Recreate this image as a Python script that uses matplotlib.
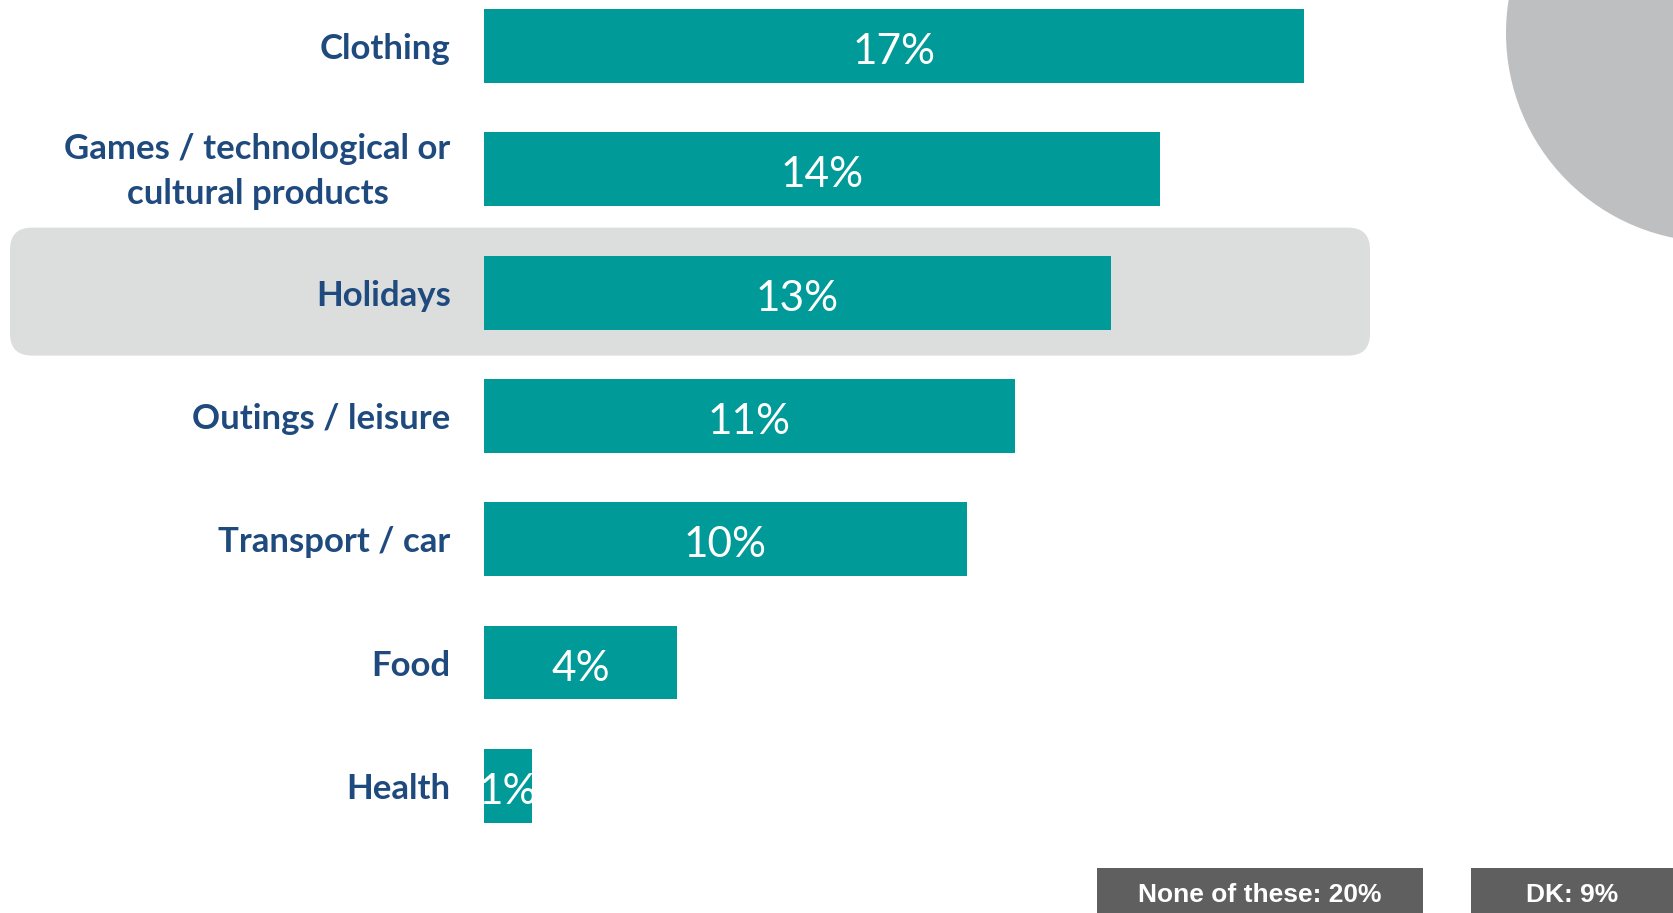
import matplotlib
matplotlib.use("Agg")
import matplotlib.pyplot as plt
from matplotlib.patches import FancyBboxPatch, Circle, Rectangle
from matplotlib.transforms import Bbox, TransformedBbox, ScaledTranslation

# Spending categories and shares (%)
categories = [
    "Clothing",
    "Games / technological or\ncultural products",
    "Holidays",
    "Outings / leisure",
    "Transport / car",
    "Food",
    "Health",
]
values = [17, 14, 13, 11, 10, 4, 1]
value_labels = ["17%", "14%", "13%", "11%", "10%", "4%", "1%"]
highlight = "Holidays"
extra_labels = ["None of these: 20%", "DK: 9%"]

TEAL = "#009A98"
NAVY = "#1F4A7E"
BAND = "#DCDDDD"
GREY_DISC = "#BEBFC1"
BOX = "#5F5F5F"

W, H = 1674, 913
fig = plt.figure(figsize=(W / 100, H / 100), dpi=100)

# Decoration layer in pixel units (y grows downward)
deco = fig.add_axes([0, 0, 1, 1], zorder=0)
deco.set_xlim(0, W)
deco.set_ylim(H, 0)
deco.axis("off")

# Main bar axes: bars start at x=484 px, ~48.25 px per percentage point
left_px = 484
px_per_pct = 48.25
row0_px, row_pitch = 46, 123.3
ax = fig.add_axes([left_px / W, 0, (W - left_px) / W, 1], zorder=1)
ax.patch.set_alpha(0)
ax.set_xlim(0, (W - left_px) / px_per_pct)
ax.set_ylim((H - row0_px) / row_pitch, -row0_px / row_pitch)

ypos = list(range(len(categories)))
bar_h = 0.6

# Highlight band behind the selected row
hi = categories.index(highlight)
band_top = row0_px + hi * row_pitch - 65
deco.add_patch(FancyBboxPatch((10 + 22, band_top + 22), 1360 - 44, 128 - 44,
                              boxstyle="round,pad=22", fc=BAND, ec="none"))

# Partial grey disc at the top right
deco.add_patch(Circle((1715, 33), 209, fc=GREY_DISC, ec="none"))

bars = ax.barh(ypos, values, height=bar_h, color=TEAL, edgecolor="none")

for y, v, lab in zip(ypos, values, value_labels):
    t = ax.text(v / 2, y + 0.05, lab, ha="center", va="center",
                color="white", fontsize=30.5, family="Lato")
    clip = TransformedBbox(Bbox.from_extents(0, y - bar_h / 2, v, y + bar_h / 2),
                           ax.transData)
    t.set_clip_box(clip)
    t.set_clip_on(True)

ax.set_yticks(ypos)
ax.set_yticklabels(categories, multialignment="center", linespacing=1.5)
for tl in ax.get_yticklabels():
    tl.set_fontfamily("Lato")
    tl.set_fontweight("bold")
    tl.set_fontsize(25)
    tl.set_color(NAVY)
ax.tick_params(axis="y", length=0, pad=24)
ax.tick_params(axis="x", bottom=False, labelbottom=False)
for s in ax.spines.values():
    s.set_visible(False)

# Two-line label sits a little higher than its row centre
two_line = ax.get_yticklabels()[1]
two_line.set_transform(two_line.get_transform()
                       + ScaledTranslation(0, 5 / 72, fig.dpi_scale_trans))

# Summary boxes at the bottom
boxes = [(1097, 1423), (1471, W)]
for (x0, x1), txt in zip(boxes, extra_labels):
    deco.add_patch(Rectangle((x0, 868), x1 - x0, 60, fc=BOX, ec="none"))
    deco.text((x0 + x1) / 2, 895, txt, ha="center", va="center", color="white",
              fontsize=19, fontweight="bold", family="Liberation Sans")

fig.savefig("out.png", dpi=100)
